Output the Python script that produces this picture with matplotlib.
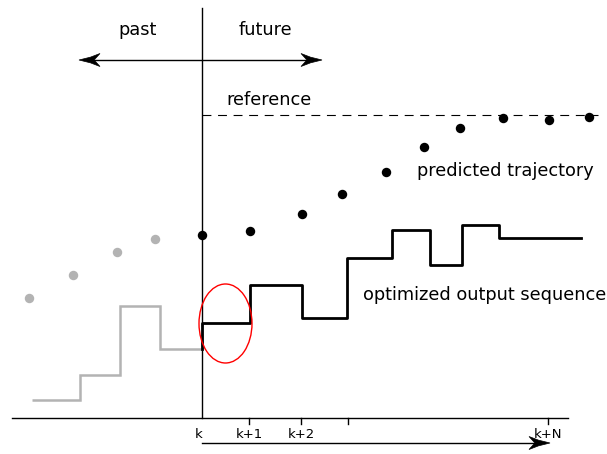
import matplotlib
matplotlib.use("Agg")
import matplotlib.pyplot as plt
from matplotlib.patches import Ellipse, Polygon
import numpy as np

# Schematic drawn in a 607 x 454 canvas space (y grows downward)
K_X = 202          # current time instant k
AXIS_Y = 418       # time axis
REF_Y = 115        # reference level

past_edges = [32, 80, 120, 160, 202]
past_vals = [400, 375, 306, 349]

future_edges = [202, 250, 302, 347, 392, 430, 462, 499, 581]
future_vals = [323, 285, 318, 258, 230, 265, 225, 238]

past_pts_x = [29, 73, 117, 155]
past_pts_y = [298, 275, 252, 239]

pred_x = [202, 250, 302, 342, 386, 424, 460, 503, 549, 589]
pred_y = [235, 231, 214, 194, 172, 147, 128, 118, 120, 117]

tick_x = [202, 249, 301, 348, 548]
tick_labels = ["k", "k+1", "k+2", "", "k+N"]

GRAY = "#b3b3b3"
FS = 12.8


def arrowhead(ax, tip_x, tip_y, direction, length=21, width=13):
    # concave arrowhead, direction = +1 (pointing right) or -1 (left)
    L, W = length * direction, width
    pts = [(0, 0), (-0.55 * L, -0.22 * W), (-L, -0.5 * W), (-0.72 * L, 0),
           (-L, 0.5 * W), (-0.55 * L, 0.22 * W)]
    pts = [(tip_x + px, tip_y + py) for px, py in pts]
    ax.add_patch(Polygon(pts, closed=True, facecolor="black", edgecolor="black",
                         lw=0.5, zorder=6))


fig = plt.figure(figsize=(6.07, 4.54), dpi=100)
ax = fig.add_axes([0, 0, 1, 1])
ax.set_xlim(0, 607)
ax.set_ylim(454, 0)
ax.axis("off")

# axes lines
ax.plot([K_X, K_X], [8, AXIS_Y], color="black", lw=1.0, zorder=1)
ax.plot([12, 568], [AXIS_Y, AXIS_Y], color="black", lw=1.0, zorder=1)
for tx, lab in zip(tick_x, tick_labels):
    if tx != K_X:
        ax.plot([tx, tx], [AXIS_Y, AXIS_Y + 6], color="black", lw=1.0)
    if lab:
        ax.text(tx - (3 if lab == "k" else 0), 434, lab, ha="center", va="center", fontsize=9.5)

# reference
ax.plot([K_X, 598], [REF_Y, REF_Y], color="black", lw=0.8, linestyle=(0, (8, 6)))

# past output (gray) and optimized sequence (black)
ax.stairs(past_vals, past_edges, color=GRAY, lw=1.8, baseline=None)
fx = np.r_[future_edges[0], future_edges]
fy = np.r_[past_vals[-1], future_vals, future_vals[-1]]
ax.step(fx, fy, where="post", color="black", lw=2.0, zorder=3)

# points
ax.plot(past_pts_x, past_pts_y, "o", color=GRAY, ms=6.8, mec="none")
ax.plot(pred_x, pred_y, "o", color="black", ms=6.8, mec="none", zorder=4)

# highlight ellipse
ax.add_patch(Ellipse((225.5, 323.5), 53, 79, fill=False, edgecolor="red", lw=1.0, zorder=5))

# arrows
ax.plot([90, 312], [60, 60], color="black", lw=1.0)
arrowhead(ax, 79, 60, -1)
arrowhead(ax, 322, 60, 1)
ax.plot([K_X, 540], [443, 443], color="black", lw=1.0)
arrowhead(ax, 550, 443, 1)

# labels
ax.text(138, 30, "past", ha="center", va="center", fontsize=FS)
ax.text(265, 30, "future", ha="center", va="center", fontsize=FS)
ax.text(269, 100, "reference", ha="center", va="center", fontsize=FS)
ax.text(417, 171, "predicted trajectory", ha="left", va="center", fontsize=FS)
ax.text(363, 295, "optimized output sequence", ha="left", va="center", fontsize=FS)

fig.savefig("out.png", dpi=100)
